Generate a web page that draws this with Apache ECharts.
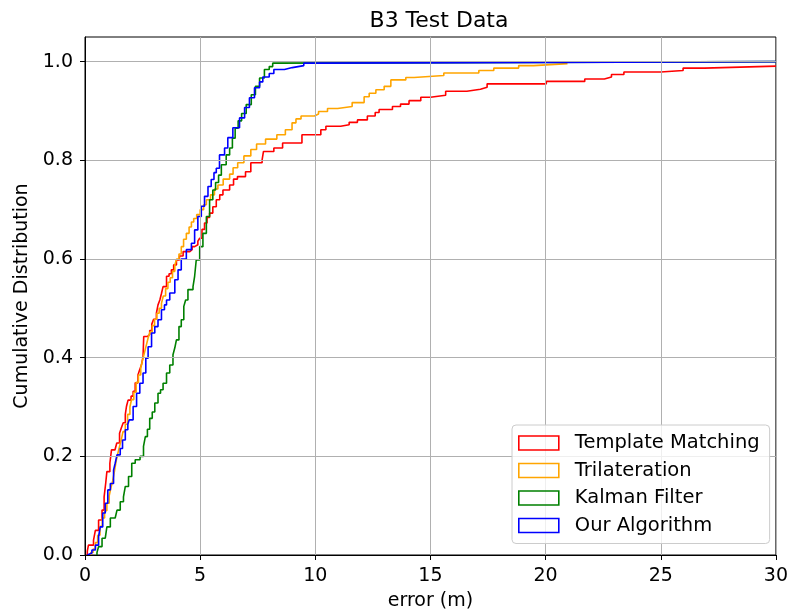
<!DOCTYPE html>
<html>
<head>
<meta charset="utf-8">
<title>B3 Test Data</title>
<script src="https://cdn.jsdelivr.net/npm/echarts@6/dist/echarts.min.js"></script>
<style>
  html, body { margin: 0; padding: 0; background: #ffffff; }
  #chart { width: 791px; height: 616px; }
</style>
</head>
<body>
<div id="chart"></div>
<script>
// Cumulative error distributions: each pair is [error (m), cumulative fraction reached at that error]
const templateMatching = [
  [0.10, 0.000], [0.10, 0.008], [0.15, 0.020], [0.37, 0.030], [0.45, 0.050], [0.59, 0.071],
  [0.74, 0.091], [0.83, 0.118], [0.90, 0.146], [0.95, 0.169], [1.08, 0.186], [1.15, 0.213],
  [1.30, 0.217], [1.38, 0.227], [1.50, 0.247], [1.58, 0.258], [1.66, 0.268], [1.75, 0.285],
  [1.80, 0.301], [1.87, 0.314], [2.00, 0.322], [2.09, 0.332], [2.18, 0.349], [2.30, 0.365],
  [2.37, 0.375], [2.45, 0.385], [2.52, 0.402], [2.55, 0.443], [2.72, 0.447], [2.81, 0.455],
  [2.90, 0.468], [2.98, 0.478], [3.10, 0.490], [3.17, 0.507], [3.25, 0.517], [3.32, 0.530],
  [3.39, 0.544], [3.54, 0.565], [3.65, 0.570], [3.75, 0.578], [3.85, 0.588], [3.97, 0.598],
  [4.10, 0.606], [4.26, 0.615], [4.55, 0.619], [4.65, 0.625], [4.76, 0.629], [4.90, 0.636],
  [4.98, 0.642], [5.08, 0.660], [5.19, 0.673], [5.30, 0.684], [5.41, 0.693], [5.55, 0.706],
  [5.70, 0.720], [5.85, 0.730], [5.99, 0.740], [6.28, 0.750], [6.45, 0.762], [6.62, 0.767],
  [6.97, 0.777], [7.20, 0.795], [7.69, 0.801], [7.75, 0.818], [8.20, 0.825], [8.58, 0.835],
  [9.42, 0.852], [10.24, 0.862], [10.46, 0.869], [11.10, 0.872], [11.47, 0.877], [11.83, 0.882],
  [12.26, 0.890], [12.60, 0.897], [12.77, 0.903], [13.35, 0.909], [13.70, 0.914], [14.07, 0.921],
  [14.58, 0.928], [15.00, 0.932], [15.66, 0.940], [16.58, 0.944], [17.17, 0.948], [17.46, 0.955],
  [20.03, 0.960], [21.70, 0.965], [22.55, 0.969], [22.86, 0.974], [23.40, 0.979], [25.00, 0.982],
  [25.97, 0.987], [26.90, 0.991], [30.00, 0.991]
];

const trilateration = [
  [0.25, 0.000], [0.25, 0.005], [0.35, 0.012], [0.45, 0.025], [0.55, 0.040], [0.65, 0.058],
  [0.75, 0.075], [0.85, 0.090], [0.95, 0.105], [1.05, 0.120], [1.12, 0.135], [1.20, 0.150],
  [1.28, 0.170], [1.35, 0.190], [1.42, 0.205], [1.50, 0.220], [1.58, 0.235], [1.65, 0.250],
  [1.75, 0.265], [1.85, 0.285], [1.95, 0.300], [2.02, 0.315], [2.12, 0.330], [2.22, 0.350],
  [2.32, 0.365], [2.42, 0.380], [2.50, 0.395], [2.58, 0.410], [2.66, 0.425], [2.74, 0.440],
  [2.82, 0.452], [2.92, 0.465], [3.02, 0.478], [3.12, 0.490], [3.22, 0.500], [3.32, 0.510],
  [3.40, 0.525], [3.50, 0.540], [3.60, 0.553], [3.70, 0.562], [3.80, 0.575], [3.90, 0.588],
  [3.98, 0.600], [4.08, 0.610], [4.18, 0.625], [4.28, 0.640], [4.40, 0.652], [4.52, 0.665],
  [4.62, 0.675], [4.72, 0.682], [4.85, 0.690], [5.00, 0.700], [5.15, 0.710], [5.27, 0.720],
  [5.45, 0.730], [5.62, 0.742], [5.77, 0.750], [6.00, 0.762], [6.28, 0.772], [6.43, 0.785],
  [6.63, 0.795], [6.90, 0.809], [7.20, 0.822], [7.45, 0.833], [7.84, 0.843], [8.33, 0.852],
  [8.70, 0.862], [8.99, 0.876], [9.16, 0.884], [9.38, 0.890], [9.96, 0.894], [10.14, 0.899],
  [10.53, 0.905], [10.97, 0.909], [11.60, 0.917], [12.12, 0.929], [12.34, 0.936], [12.63, 0.943],
  [12.99, 0.950], [13.28, 0.963], [13.93, 0.968], [14.29, 0.972], [15.58, 0.977], [17.10, 0.982],
  [17.75, 0.987], [18.83, 0.992], [19.48, 0.996], [20.95, 0.996]
];

const kalmanFilter = [
  [0.52, 0.000], [0.52, 0.005], [0.59, 0.017], [0.74, 0.034], [0.88, 0.037], [0.95, 0.057],
  [1.10, 0.075], [1.31, 0.077], [1.39, 0.091], [1.53, 0.108], [1.67, 0.118], [1.75, 0.139],
  [1.89, 0.159], [2.03, 0.186], [2.18, 0.193], [2.39, 0.200], [2.54, 0.220], [2.62, 0.240],
  [2.71, 0.255], [2.81, 0.277], [2.92, 0.290], [3.03, 0.308], [3.17, 0.328], [3.28, 0.335],
  [3.39, 0.348], [3.54, 0.369], [3.68, 0.385], [3.82, 0.406], [3.90, 0.420], [3.97, 0.436],
  [4.08, 0.463], [4.18, 0.477], [4.29, 0.504], [4.37, 0.517], [4.47, 0.538], [4.69, 0.544],
  [4.76, 0.565], [4.83, 0.598], [4.98, 0.625], [5.12, 0.652], [5.27, 0.686], [5.41, 0.720],
  [5.55, 0.740], [5.67, 0.755], [5.80, 0.770], [5.92, 0.791], [6.13, 0.811], [6.28, 0.825],
  [6.40, 0.845], [6.52, 0.865], [6.65, 0.880], [6.80, 0.895], [7.00, 0.913], [7.22, 0.933],
  [7.40, 0.950], [7.58, 0.967], [7.79, 0.984], [8.00, 0.990], [8.15, 0.997], [8.30, 1.000],
  [30.00, 1.000]
];

const ourAlgorithm = [
  [0.10, 0.000], [0.10, 0.004], [0.30, 0.010], [0.45, 0.020], [0.59, 0.037], [0.66, 0.057],
  [0.77, 0.085], [0.88, 0.105], [0.99, 0.132], [1.10, 0.145], [1.24, 0.172], [1.31, 0.186],
  [1.39, 0.203], [1.53, 0.216], [1.63, 0.233], [1.75, 0.254], [1.86, 0.265], [1.92, 0.274],
  [2.09, 0.301], [2.24, 0.328], [2.38, 0.348], [2.52, 0.369], [2.64, 0.399], [2.74, 0.422],
  [2.89, 0.450], [3.03, 0.463], [3.17, 0.477], [3.32, 0.497], [3.45, 0.507], [3.54, 0.517],
  [3.68, 0.531], [3.90, 0.558], [4.04, 0.578], [4.18, 0.600], [4.40, 0.619], [4.62, 0.632],
  [4.76, 0.659], [4.90, 0.686], [5.05, 0.707], [5.19, 0.727], [5.34, 0.747], [5.48, 0.761],
  [5.60, 0.775], [5.70, 0.784], [5.84, 0.811], [6.06, 0.825], [6.20, 0.846], [6.42, 0.866],
  [6.71, 0.886], [6.93, 0.907], [7.14, 0.927], [7.36, 0.947], [7.58, 0.959], [7.72, 0.969],
  [8.00, 0.976], [8.20, 0.984], [8.66, 0.988], [9.00, 0.992], [9.50, 0.997], [9.96, 1.000],
  [30.00, 1.000]
];

const seriesNames = ['Template Matching', 'Trilateration', 'Kalman Filter', 'Our Algorithm'];
const seriesData = [templateMatching, trilateration, kalmanFilter, ourAlgorithm];
const seriesColors = ['#ff0000', '#ffa500', '#008000', '#0000ff'];

const xTicks = [0, 5, 10, 15, 20, 25, 30];
const yTicks = [0, 0.2, 0.4, 0.6, 0.8, 1.0];

const FONT = 'DejaVu Sans';
const GRID_GRAY = '#b0b0b0';

const chart = echarts.init(document.getElementById('chart'), null, { renderer: 'canvas' });

chart.setOption({
  animation: false,
  backgroundColor: '#ffffff',
  title: {
    text: 'B3 Test Data',
    left: 434,
    textAlign: 'center',
    top: 5,
    textStyle: { fontFamily: FONT, fontSize: 22, fontWeight: 'normal', color: '#000000' }
  },
  grid: {
    left: 85, right: 8, top: 37, bottom: 61,
    show: true, borderColor: '#000000', borderWidth: 1, backgroundColor: 'transparent'
  },
  xAxis: {
    type: 'value',
    min: 0, max: 30, interval: 5,
    z: 3,
    name: 'error (m)',
    nameLocation: 'middle',
    nameGap: 37,
    nameTextStyle: { fontFamily: FONT, fontSize: 19, color: '#000000' },
    axisLine: { show: true, onZero: false, lineStyle: { color: '#000000', width: 1 } },
    axisTick: { show: true, inside: false, length: 5, lineStyle: { color: '#000000', width: 1 }, customValues: xTicks },
    axisLabel: { fontFamily: FONT, fontSize: 19, color: '#000000', margin: 12, customValues: xTicks },
    splitLine: { show: true, lineStyle: { color: GRID_GRAY, width: 1 } }
  },
  yAxis: {
    type: 'value',
    min: 0, max: 1.05, interval: 0.2,
    z: 3,
    name: 'Cumulative Distribution',
    nameLocation: 'middle',
    nameGap: 51,
    nameTextStyle: { fontFamily: FONT, fontSize: 19, color: '#000000' },
    axisLine: { show: true, onZero: false, lineStyle: { color: '#000000', width: 1 } },
    axisTick: { show: true, inside: false, length: 5, lineStyle: { color: '#000000', width: 1 }, customValues: yTicks },
    axisLabel: {
      fontFamily: FONT, fontSize: 19, color: '#000000', margin: 12,
      customValues: yTicks,
      formatter: v => v.toFixed(1)
    },
    splitLine: { show: true, lineStyle: { color: GRID_GRAY, width: 1 } }
  },
  legend: {
    orient: 'vertical',
    left: 512,
    top: 425,
    padding: [8, 10, 8, 6],
    itemWidth: 40,
    itemHeight: 14,
    itemGap: 7.5,
    icon: 'rect',
    backgroundColor: 'rgba(255,255,255,0.8)',
    borderColor: '#cccccc',
    borderWidth: 1,
    borderRadius: 4,
    textStyle: { fontFamily: FONT, fontSize: 19.5, color: '#000000', padding: [0, 0, 0, 11] },
    data: seriesNames.map((name, i) => ({
      name: name,
      icon: 'rect',
      itemStyle: { color: 'transparent', borderColor: seriesColors[i], borderWidth: 1.6 }
    }))
  },
  series: seriesNames.map((name, i) => ({
    name: name,
    type: 'line',
    step: 'end',
    z: 2,
    data: seriesData[i],
    showSymbol: false,
    symbol: 'none',
    color: seriesColors[i],
    lineStyle: { color: seriesColors[i], width: 1.6 },
    emphasis: { disabled: true }
  }))
});
</script>
</body>
</html>
